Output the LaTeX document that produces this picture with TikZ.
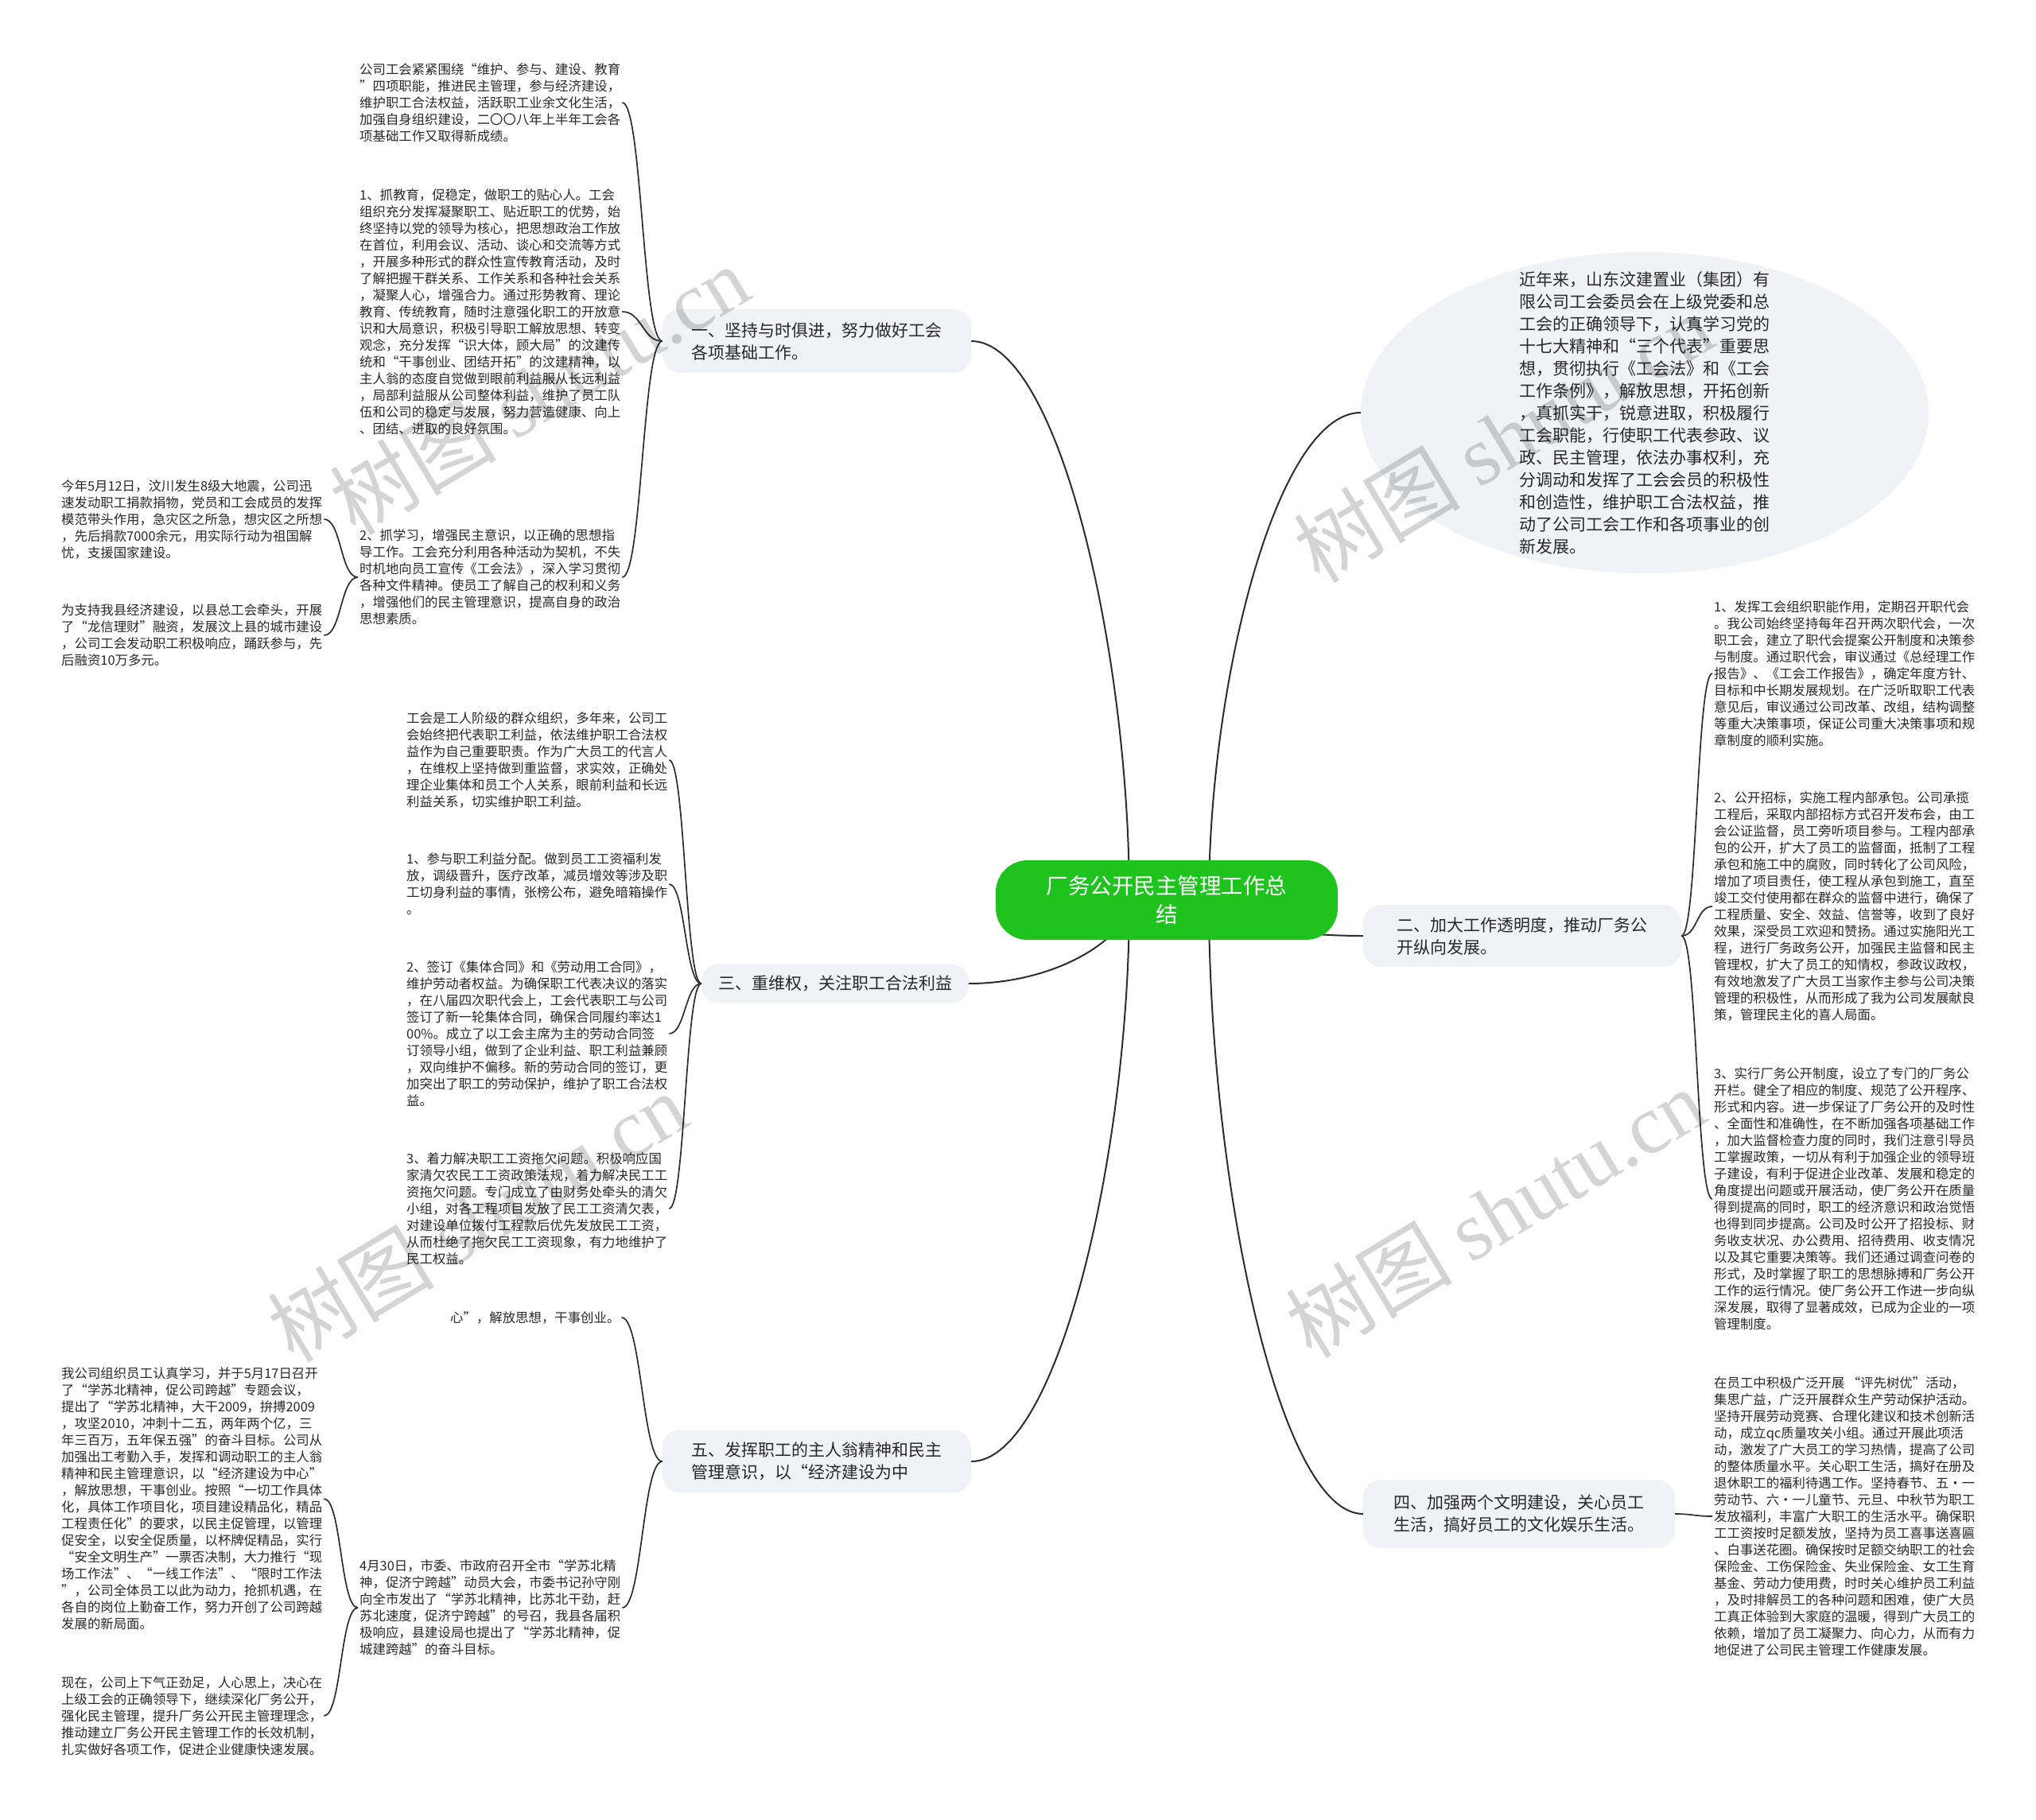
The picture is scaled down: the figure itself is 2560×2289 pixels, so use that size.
\documentclass[tikz,border=0pt]{standalone}
\usepackage{fontspec}
\setmainfont{Noto Sans CJK SC}
\newfontfamily\wmlatin{Liberation Serif}
\usetikzlibrary{shapes.geometric,calc}
\definecolor{cgreen}{RGB}{30,195,30}
\definecolor{cbox}{RGB}{240,242,245}
\definecolor{cline}{RGB}{45,45,45}
\definecolor{ctext}{RGB}{40,40,40}
\pgfdeclarelayer{bg}
\pgfdeclarelayer{bglines}
\pgfsetlayers{bg,bglines,main}
\begin{document}
\begin{tikzpicture}[x=1pt,y=-1pt,
  detail/.style={anchor=west,align=left,inner xsep=2pt,inner ysep=2pt,font=\fontsize{16.4}{21}\selectfont,text=ctext},
  branchbox/.style={fill=cbox,rounded corners=22pt,align=left,font=\fontsize{21}{28}\selectfont,text=ctext,inner sep=0pt},
  mainline/.style={draw=cline,line width=2pt},
  subline/.style={draw=cline,line width=1.7pt},
  wm/.style={text=black,opacity=0.17,rotate=31,font=\fontsize{105}{105}\selectfont}
]
\useasboundingbox (0,0) rectangle (2560,2289);
\begin{pgfonlayer}{bg}
\fill[white] (0,0) rectangle (2560,2289);
\end{pgfonlayer}

% centre
\node[fill=cgreen, rounded corners=40pt, minimum width=430pt, minimum height=100pt, text=white,
      font=\fontsize{27.5}{36}\selectfont, align=center, inner sep=0pt] (c) at (1467,1132)
  {厂务公开民主管理工作总\\结};

% branches
\node[branchbox, minimum width=388pt, minimum height=80pt] (b1) at (1027,429)
  {一、坚持与时俱进，努力做好工会\\各项基础工作。};
\node[branchbox, minimum width=400pt, minimum height=78pt] (b2) at (1914,1177)
  {二、加大工作透明度，推动厂务公\\开纵向发展。};
\node[branchbox, minimum width=336pt, minimum height=49pt] (b3) at (1050,1237)
  {三、重维权，关注职工合法利益};
\node[branchbox, minimum width=392pt, minimum height=85pt] (b4) at (1910,1904)
  {四、加强两个文明建设，关心员工\\生活，搞好员工的文化娱乐生活。};
\node[branchbox, minimum width=388pt, minimum height=79pt] (b5) at (1027,1838)
  {五、发挥职工的主人翁精神和民主\\管理意识，以“经济建设为中};

% ellipse
\node[ellipse, fill=cbox, minimum width=714pt, minimum height=404pt, inner sep=0pt] (e) at (2068,519) {};
\node[align=left, font=\fontsize{21}{28}\selectfont, text=ctext, inner sep=0pt] (et) at (e.center)
  {近年来，山东汶建置业（集团）有\\
   限公司工会委员会在上级党委和总\\
   工会的正确领导下，认真学习党的\\
   十七大精神和“三个代表”重要思\\
   想，贯彻执行《工会法》和《工会\\
   工作条例》，解放思想，开拓创新\\
   ，真抓实干，锐意进取，积极履行\\
   工会职能，行使职工代表参政、议\\
   政、民主管理，依法办事权利，充\\
   分调动和发挥了工会会员的积极性\\
   和创造性，维护职工合法权益，推\\
   动了公司工会工作和各项事业的创\\
   新发展。};

% branch 1 details
\node[detail] (t11) at (450,129)
  {公司工会紧紧围绕“维护、参与、建设、教育\\
   ”四项职能，推进民主管理，参与经济建设，\\
   维护职工合法权益，活跃职工业余文化生活，\\
   加强自身组织建设，二〇〇八年上半年工会各\\
   项基础工作又取得新成绩。};
\node[detail] (t12) at (450,392)
  {1、抓教育，促稳定，做职工的贴心人。工会\\
   组织充分发挥凝聚职工、贴近职工的优势，始\\
   终坚持以党的领导为核心，把思想政治工作放\\
   在首位，利用会议、活动、谈心和交流等方式\\
   ，开展多种形式的群众性宣传教育活动，及时\\
   了解把握干群关系、工作关系和各种社会关系\\
   ，凝聚人心，增强合力。通过形势教育、理论\\
   教育、传统教育，随时注意强化职工的开放意\\
   识和大局意识，积极引导职工解放思想、转变\\
   观念，充分发挥“识大体，顾大局”的汶建传\\
   统和“干事创业、团结开拓”的汶建精神，以\\
   主人翁的态度自觉做到眼前利益服从长远利益\\
   ，局部利益服从公司整体利益，维护了员工队\\
   伍和公司的稳定与发展，努力营造健康、向上\\
   、团结、进取的良好氛围。};
\node[detail] (t13) at (450,726)
  {2、抓学习，增强民主意识，以正确的思想指\\
   导工作。工会充分利用各种活动为契机，不失\\
   时机地向员工宣传《工会法》，深入学习贯彻\\
   各种文件精神。使员工了解自己的权利和义务\\
   ，增强他们的民主管理意识，提高自身的政治\\
   思想素质。};
\node[detail] (t131) at (75,653)
  {今年5月12日，汶川发生8级大地震，公司迅\\
   速发动职工捐款捐物，党员和工会成员的发挥\\
   模范带头作用，急灾区之所急，想灾区之所想\\
   ，先后捐款7000余元，用实际行动为祖国解\\
   忧，支援国家建设。};
\node[detail] (t132) at (75,799)
  {为支持我县经济建设，以县总工会牵头，开展\\
   了“龙信理财”融资，发展汶上县的城市建设\\
   ，公司工会发动职工积极响应，踊跃参与，先\\
   后融资10万多元。};

% branch 3 details
\node[detail] (t31) at (509,956)
  {工会是工人阶级的群众组织，多年来，公司工\\
   会始终把代表职工利益，依法维护职工合法权\\
   益作为自己重要职责。作为广大员工的代言人\\
   ，在维权上坚持做到重监督，求实效，正确处\\
   理企业集体和员工个人关系，眼前利益和长远\\
   利益关系，切实维护职工利益。};
\node[detail] (t32) at (509,1112)
  {1、参与职工利益分配。做到员工工资福利发\\
   放，调级晋升，医疗改革，减员增效等涉及职\\
   工切身利益的事情，张榜公布，避免暗箱操作\\
   。};
\node[detail] (t33) at (509,1300)
  {2、签订《集体合同》和《劳动用工合同》，\\
   维护劳动者权益。为确保职工代表决议的落实\\
   ，在八届四次职代会上，工会代表职工与公司\\
   签订了新一轮集体合同，确保合同履约率达1\\
   00\%。成立了以工会主席为主的劳动合同签\\
   订领导小组，做到了企业利益、职工利益兼顾\\
   ，双向维护不偏移。新的劳动合同的签订，更\\
   加突出了职工的劳动保护，维护了职工合法权\\
   益。};
\node[detail] (t34) at (509,1520)
  {3、着力解决职工工资拖欠问题。积极响应国\\
   家清欠农民工工资政策法规，着力解决民工工\\
   资拖欠问题。专门成立了由财务处牵头的清欠\\
   小组，对各工程项目发放了民工工资清欠表，\\
   对建设单位拨付工程款后优先发放民工工资，\\
   从而杜绝了拖欠民工工资现象，有力地维护了\\
   民工权益。};

% branch 5 details
\node[detail] (t51) at (564,1657) {心”，解放思想，干事创业。};
\node[detail] (t52) at (450,2022)
  {4月30日，市委、市政府召开全市“学苏北精\\
   神，促济宁跨越”动员大会，市委书记孙守刚\\
   向全市发出了“学苏北精神，比苏北干劲，赶\\
   苏北速度，促济宁跨越”的号召，我县各届积\\
   极响应，县建设局也提出了“学苏北精神，促\\
   城建跨越”的奋斗目标。};
\node[detail] (t521) at (75,1885)
  {我公司组织员工认真学习，并于5月17日召开\\
   了“学苏北精神，促公司跨越”专题会议，\\
   提出了“学苏北精神，大干2009，拚搏2009\\
   ，攻坚2010，冲刺十二五，两年两个亿，三\\
   年三百万，五年保五强”的奋斗目标。公司从\\
   加强出工考勤入手，发挥和调动职工的主人翁\\
   精神和民主管理意识，以“经济建设为中心”\\
   ，解放思想，干事创业。按照“一切工作具体\\
   化，具体工作项目化，项目建设精品化，精品\\
   工程责任化”的要求，以民主促管理，以管理\\
   促安全，以安全促质量，以杯牌促精品，实行\\
   “安全文明生产”一票否决制，大力推行“现\\
   场工作法”、“一线工作法”、“限时工作法\\
   ”，公司全体员工以此为动力，抢抓机遇，在\\
   各自的岗位上勤奋工作，努力开创了公司跨越\\
   发展的新局面。};
\node[detail] (t522) at (75,2158)
  {现在，公司上下气正劲足，人心思上，决心在\\
   上级工会的正确领导下，继续深化厂务公开，\\
   强化民主管理，提升厂务公开民主管理理念，\\
   推动建立厂务公开民主管理工作的长效机制，\\
   扎实做好各项工作，促进企业健康快速发展。};

% branch 2 details
\node[detail] (t21) at (2153,847)
  {1、发挥工会组织职能作用，定期召开职代会\\
   。我公司始终坚持每年召开两次职代会，一次\\
   职工会，建立了职代会提案公开制度和决策参\\
   与制度。通过职代会，审议通过《总经理工作\\
   报告》、《工会工作报告》，确定年度方针、\\
   目标和中长期发展规划。在广泛听取职工代表\\
   意见后，审议通过公司改革、改组，结构调整\\
   等重大决策事项，保证公司重大决策事项和规\\
   章制度的顺利实施。};
\node[detail] (t22) at (2153,1140)
  {2、公开招标，实施工程内部承包。公司承揽\\
   工程后，采取内部招标方式召开发布会，由工\\
   会公证监督，员工旁听项目参与。工程内部承\\
   包的公开，扩大了员工的监督面，抵制了工程\\
   承包和施工中的腐败，同时转化了公司风险，\\
   增加了项目责任，使工程从承包到施工，直至\\
   竣工交付使用都在群众的监督中进行，确保了\\
   工程质量、安全、效益、信誉等，收到了良好\\
   效果，深受员工欢迎和赞扬。通过实施阳光工\\
   程，进行厂务政务公开，加强民主监督和民主\\
   管理权，扩大了员工的知情权，参政议政权，\\
   有效地激发了广大员工当家作主参与公司决策\\
   管理的积极性，从而形成了我为公司发展献良\\
   策，管理民主化的喜人局面。};
\node[detail] (t23) at (2153,1508)
  {3、实行厂务公开制度，设立了专门的厂务公\\
   开栏。健全了相应的制度、规范了公开程序、\\
   形式和内容。进一步保证了厂务公开的及时性\\
   、全面性和准确性，在不断加强各项基础工作\\
   ，加大监督检查力度的同时，我们注意引导员\\
   工掌握政策，一切从有利于加强企业的领导班\\
   子建设，有利于促进企业改革、发展和稳定的\\
   角度提出问题或开展活动，使厂务公开在质量\\
   得到提高的同时，职工的经济意识和政治觉悟\\
   也得到同步提高。公司及时公开了招投标、财\\
   务收支状况、办公费用、招待费用、收支情况\\
   以及其它重要决策等。我们还通过调查问卷的\\
   形式，及时掌握了职工的思想脉搏和厂务公开\\
   工作的运行情况。使厂务公开工作进一步向纵\\
   深发展，取得了显著成效，已成为企业的一项\\
   管理制度。};

% branch 4 detail
\node[detail] (t41) at (2153,1907)
  {在员工中积极广泛开展 “评先树优”活动，\\
   集思广益，广泛开展群众生产劳动保护活动。\\
   坚持开展劳动竞赛、合理化建议和技术创新活\\
   动，成立qc质量攻关小组。通过开展此项活\\
   动，激发了广大员工的学习热情，提高了公司\\
   的整体质量水平。关心职工生活，搞好在册及\\
   退休职工的福利待遇工作。坚持春节、五·一\\
   劳动节、六·一儿童节、元旦、中秋节为职工\\
   发放福利，丰富广大职工的生活水平。确保职\\
   工工资按时足额发放，坚持为员工喜事送喜匾\\
   、白事送花圈。确保按时足额交纳职工的社会\\
   保险金、工伤保险金、失业保险金、女工生育\\
   基金、劳动力使用费，时时关心维护员工利益\\
   ，及时排解员工的各种问题和困难，使广大员\\
   工真正体验到大家庭的温暖，得到广大员工的\\
   依赖，增加了员工凝聚力、向心力，从而有力\\
   地促进了公司民主管理工作健康发展。};

% connectors
\begin{pgfonlayer}{bglines}
\coordinate (cl) at ($(c.center)+(-47,0)$);
\coordinate (cr) at ($(c.center)+(53,0)$);
\draw[mainline] (cl) .. controls (1420,816) and (1330,429) .. (b1.east);
\draw[mainline] (cl) .. controls (1420,1179) and (1329,1237) .. (b3.east);
\draw[mainline] (cl) .. controls (1420,1450) and (1330,1838) .. (b5.east);
\draw[mainline] (cr) .. controls (1520,856) and (1606,519) .. (e.west);
\draw[mainline] (cr) .. controls (1520,1157) and (1607,1177) .. (b2.west);
\draw[mainline] (cr) .. controls (1520,1479) and (1607,1904) .. (b4.west);
\end{pgfonlayer}

\foreach \t in {t11,t12,t13}
  \draw[subline] (b1.west) .. controls +(-25,0) and +(25,0) .. (\t.east);
\foreach \t in {t131,t132}
  \draw[subline] (t13.west) .. controls +(-22,0) and +(22,0) .. (\t.east);
\foreach \t in {t31,t32,t33,t34}
  \draw[subline] (b3.west) .. controls +(-20,0) and +(20,0) .. (\t.east);
\foreach \t in {t51,t52}
  \draw[subline] (b5.west) .. controls +(-25,0) and +(25,0) .. (\t.east);
\foreach \t in {t521,t522}
  \draw[subline] (t52.west) .. controls +(-22,0) and +(22,0) .. (\t.east);
\foreach \t in {t21,t22,t23}
  \draw[subline] (b2.east) .. controls +(20,0) and +(-20,0) .. (\t.west);
\draw[subline] (b4.east) .. controls +(22,0) and +(-22,0) .. (t41.west);

% watermarks
\node[wm] (w1) at (678,490) {树图 {\wmlatin shutu.cn}};
\node[wm] (w2) at (1890,550) {树图 {\wmlatin shutu.cn}};
\node[wm] (w3) at (600,1530) {树图 {\wmlatin shutu.cn}};
\node[wm] (w4) at (1880,1525) {树图 {\wmlatin shutu.cn}};
\end{tikzpicture}
\end{document}
